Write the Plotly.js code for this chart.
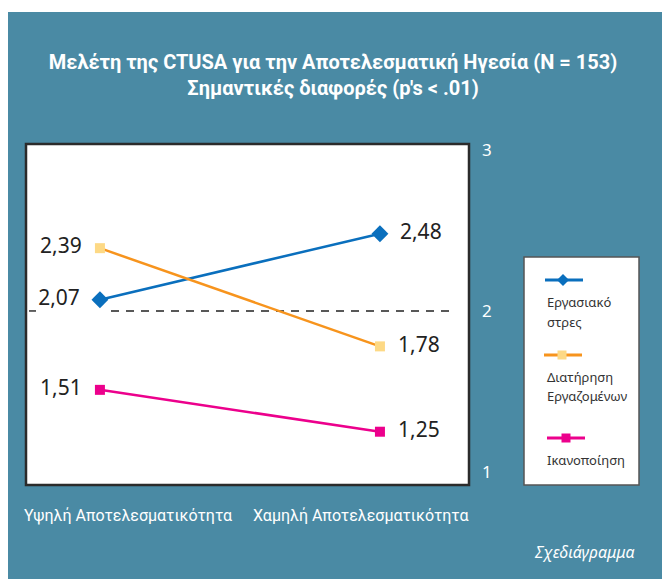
<!DOCTYPE html>
<html>
<head>
<meta charset="utf-8">
<script src="https://cdn.plot.ly/plotly-3.0.1.min.js"></script>
<style>html,body{margin:0;padding:0;background:#fff;}#chart{width:662px;height:579px;}</style>
</head>
<body>
<div id="chart"></div>
<script>
// ---- data ----
const categories = ["Υψηλή Αποτελεσματικότητα", "Χαμηλή Αποτελεσματικότητα"];
const seriesNames = ["Εργασιακό<br>στρες", "Διατήρηση<br>Εργαζομένων", "Ικανοποίηση"];
const stressValues = [2.07, 2.48];
const retentionValues = [2.39, 1.78];
const satisfactionValues = [1.51, 1.25];
const yTickValues = [1, 2, 3];
const yTickLabels = ["1", "2", "3"];
const referenceLevel = 2;

// ---- geometry helpers ----
const W = 662, H = 579, ML = 26, MR = 193, MT = 144, MB = 94;
const PW = W - ML - MR, PH = H - MT - MB;
const px = v => (v - ML) / PW;
const py = v => (H - MB - v) / PH;

const colors = ["#0a6fbd", "#f7941d", "#ec008c"];
const markerColors = ["#0a6fbd", "#fdd985", "#ec008c"];
const symbols = ["diamond", "square", "square"];
const sizes = [13, 10, 10];
const NB = "\u00a0\u00a0";
const fmt = v => v.toFixed(2).replace(".", ",");
const condensed = "Roboto, Liberation Sans, sans-serif";

const allValues = [stressValues, retentionValues, satisfactionValues];
const traces = allValues.map((vals, i) => ({
  type: "scatter",
  mode: "lines+markers+text",
  x: categories,
  y: vals,
  text: vals.map((v, j) => j === 0 ? fmt(v) + NB : NB + fmt(v)),
  textposition: ["middle left", "middle right"],
  textfont: {family: "Noto Sans, sans-serif", size: 21, color: "#222"},
  line: {color: colors[i], width: 2.5},
  marker: {color: markerColors[i], symbol: symbols[i], size: sizes[i], line: {width: 0}},
  name: seriesNames[i],
  showlegend: false,
  cliponaxis: false,
  hoverinfo: "skip"
}));

const shapes = [
  // teal background
  {type: "rect", xref: "paper", yref: "paper", x0: px(8), x1: px(663), y0: py(12), y1: py(580),
   fillcolor: "#4a8aa4", line: {width: 0}, layer: "below"},
  // white plot area
  {type: "rect", xref: "paper", yref: "paper", x0: 0, x1: 1, y0: 0, y1: 1,
   fillcolor: "#ffffff", line: {width: 0}, layer: "below"},
  // legend box
  {type: "rect", xref: "paper", yref: "paper", x0: px(524), x1: px(639), y0: py(485), y1: py(257),
   fillcolor: "#ffffff", line: {color: "#555", width: 1.5}, layer: "below"},
  // reference dashed line
  {type: "line", xref: "paper", yref: "y", x0: px(29), x1: px(36), y0: referenceLevel, y1: referenceLevel,
   line: {color: "#222", width: 1.4}, layer: "below"},
  {type: "line", xref: "paper", yref: "y", x0: px(111), x1: px(456), y0: referenceLevel, y1: referenceLevel,
   line: {color: "#222", width: 1.4, dash: "8px,7px"}, layer: "below"},
  // plot border
  {type: "rect", xref: "paper", yref: "paper", x0: 0, x1: 1, y0: 0, y1: 1,
   line: {color: "#2b2b2b", width: 2.5}, layer: "above"}
];

// legend samples
const legendLineY = [280, 355, 438];
const legendLineX = [[545, 583], [544, 582], [547, 585]];
const legendMarkX = [563, 562, 566];
legendLineY.forEach((yy, i) => {
  shapes.push({type: "line", xref: "paper", yref: "paper", x0: px(legendLineX[i][0]), x1: px(legendLineX[i][1]),
    y0: py(yy), y1: py(yy), line: {color: colors[i], width: 3}});
  const cx = legendMarkX[i];
  if (symbols[i] === "diamond") {
    const r = 6;
    shapes.push({type: "path", xref: "paper", yref: "paper",
      path: `M ${px(cx)},${py(yy - r)} L ${px(cx + r)},${py(yy)} L ${px(cx)},${py(yy + r)} L ${px(cx - r)},${py(yy)} Z`,
      fillcolor: markerColors[i], line: {width: 0}});
  } else {
    const r = 4.5;
    shapes.push({type: "rect", xref: "paper", yref: "paper", x0: px(cx - r), x1: px(cx + r), y0: py(yy + r), y1: py(yy - r),
      fillcolor: markerColors[i], line: {width: 0}});
  }
});

const legendTextY = [[302, 322], [377, 396], [460]];
const annotations = [];
seriesNames.forEach((nm, i) => {
  nm.split("<br>").forEach((part, k) => {
    annotations.push({xref: "paper", yref: "paper", x: px(545), y: py(legendTextY[i][k]), xanchor: "left", yanchor: "middle",
      text: part, showarrow: false, font: {family: "Noto Sans, sans-serif", size: 13, color: "#333"}});
  });
});

// category labels
const catLabelX = [128, 361];
categories.forEach((c, i) => {
  annotations.push({xref: "paper", yref: "paper", x: px(catLabelX[i]), y: py(515), xanchor: "center", yanchor: "middle",
    text: c, showarrow: false, font: {family: condensed, size: 16, color: "#fff"}});
});
annotations.push({xref: "paper", yref: "paper", x: px(636), y: py(552), xanchor: "right", yanchor: "middle",
  text: "<i>Σχεδιάγραμμα</i>", showarrow: false, font: {family: "Noto Sans, sans-serif", size: 16, color: "#fff"}});

const layout = {
  width: W, height: H,
  margin: {l: ML, r: MR, t: MT, b: MB, pad: 0},
  paper_bgcolor: "#ffffff",
  plot_bgcolor: "rgba(0,0,0,0)",
  title: {
    text: "<b>Μελέτη της CTUSA για την Αποτελεσματική Ηγεσία (N = 153)<br>Σημαντικές διαφορές (p's < .01)</b>",
    font: {family: condensed, size: 20, color: "#fff"},
    x: px(333), xanchor: "center", xref: "paper",
    y: 1 - 69 / H, yanchor: "top", yref: "container"
  },
  xaxis: {type: "category", range: [-0.264, 1.318], showticklabels: false, showgrid: false, zeroline: false,
    showline: false, ticks: "", fixedrange: true},
  yaxis: {range: [0.919, 3.037], side: "right", tickvals: yTickValues, ticktext: yTickLabels, showgrid: false,
    zeroline: false, showline: false, ticks: "", ticklabelstandoff: 12,
    tickfont: {family: "Noto Sans, sans-serif", size: 17, color: "#fff"}, fixedrange: true},
  shapes: shapes,
  annotations: annotations,
  showlegend: false
};

Plotly.newPlot("chart", traces, layout, {displayModeBar: false, staticPlot: true});
</script>
</body>
</html>
